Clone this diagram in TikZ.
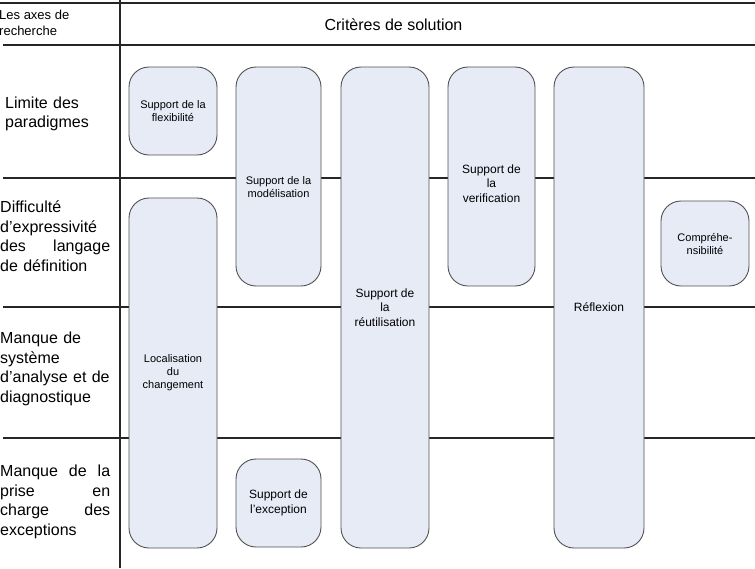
\documentclass[tikz,border=0pt]{standalone}
\usepackage{xcolor}
\usepackage{fontspec}
\setmainfont{Liberation Sans}
\usepackage{tikz}
\usetikzlibrary{positioning}

\definecolor{critfill}{RGB}{230,235,246}
\definecolor{critdraw}{RGB}{80,80,80}

\begin{document}
\begin{tikzpicture}[x=1pt, y=-1pt,
		grid/.style={line width=1.8pt, black!85},
		crit/.style={draw=critdraw, line width=0.9pt, fill=critfill, rounded corners=20pt, align=center, inner sep=2pt},
		small/.style={font=\fontsize{11}{13}\selectfont},
		mid/.style={font=\fontsize{12}{14.5}\selectfont},
		axe/.style={anchor=west, text width=110pt, align=left, inner sep=0pt, font=\fontsize{16}{19.5}\selectfont}]
	\useasboundingbox (0,0) rectangle (755,568);

	% Grid of the table
	\draw[grid] (0,3) -- (755,3);
	\draw[grid] (3,45) -- (755,45);
	\foreach \y in {178,307,438}
		\draw[grid] (3,\y) -- (755,\y);
	\draw[line width=1.4pt, black!85] (120,0) -- (120,568);

	% Header
	\node[anchor=west, align=left, inner sep=0pt, font=\fontsize{13}{16}\selectfont] (axes) at (-1,23) {Les axes de\\recherche};
	\node[font=\fontsize{16}{19}\selectfont] (crits) at (393.5,25) {Critères de solution};

	% Research axes
	\node[axe] (limite) at (5,114) {Limite des\\paradigmes};
	\node[axe] (diff) at (0,236) {Difficulté\\d’expressivité\\des\hfill langage\\de définition};
	\node[axe] (analyse) at (0,369) {Manque de\\système\\\mbox{d’analyse et de}\\diagnostique};
	\node[axe] (exc) at (0,502) {Manque\hfill de\hfill la\\prise\hfill en\\charge\hfill des\\exceptions};

	% Solution criteria
	\node[crit, small, minimum width=88pt, minimum height=88pt] (flex) at (173,111) {Support de la\\flexibilité};
	\node[crit, minimum width=85pt, minimum height=219pt,
		label={[small, align=center, yshift=-11pt]center:Support de la\\modélisation}] (model) at (278.5,176.5) {};
	\node[crit, mid, minimum width=88pt, minimum height=481pt] (reut) at (385,307.5) {Support de\\la\\réutilisation};
	\node[crit, minimum width=87pt, minimum height=219pt,
		label={[mid, align=center, yshift=-7pt]center:Support de\\la\\verification}] (verif) at (491.5,176.5) {};
	\node[crit, mid, minimum width=90pt, minimum height=481pt] (refl) at (599,307.5) {Réflexion};
	\node[crit, small, minimum width=88pt, minimum height=85pt] (compr) at (705,243.5) {Compréhe-\\nsibilité};
	\node[crit, small, minimum width=88pt, minimum height=350pt] (local) at (173,373) {Localisation\\du\\changement};
	\node[crit, mid, minimum width=85pt, minimum height=88pt] (except) at (278.5,503) {Support de\\l’exception};
\end{tikzpicture}
\end{document}
